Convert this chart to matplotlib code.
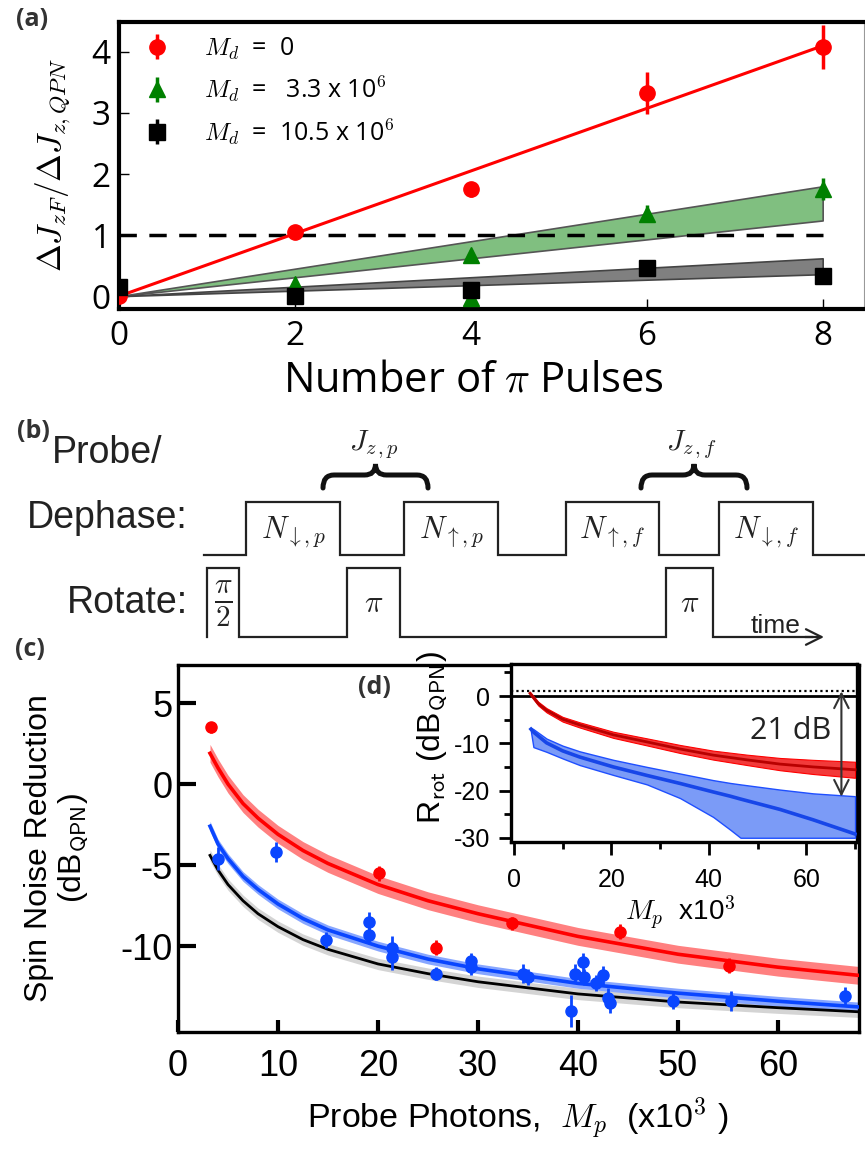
import matplotlib
matplotlib.use('Agg')
import matplotlib.pyplot as plt
from matplotlib.path import Path
from matplotlib.patches import PathPatch

plt.rcParams['mathtext.fontset'] = 'cm'
plt.rcParams['font.family'] = ['Open Sans', 'DejaVu Sans']
plt.rcParams['axes.unicode_minus'] = False

W, H = 865, 1150

# ---------------- (a) noise vs number of pi pulses ----------------
pulses = [0, 2, 4, 6, 8]
dj_md0 = [0.0, 1.05, 1.75, 3.33, 4.08]
dj_md0_err = [0.03, 0.05, 0.12, 0.34, 0.36]
pulses_md33 = [2, 4, 4, 6, 8]
dj_md33 = [0.2, 0.68, -0.03, 1.35, 1.75]
dj_md33_err = [0.05, 0.08, 0.05, 0.14, 0.18]
dj_md105 = [0.15, 0.0, 0.1, 0.46, 0.33]
dj_md105_err = [0.05, 0.05, 0.05, 0.05, 0.05]

fit_pulses = [0, 8]
fit_md0 = [0.0, 4.1]
band_md33_lo = [0.0, 1.24]
band_md33_hi = [0.0, 1.8]
band_md105_lo = [0.0, 0.36]
band_md105_hi = [0.0, 0.62]

# ---------------- (b) pulse sequence ----------------
probe_edges = [246, 340, 404, 498, 566, 659, 719, 813]
rotate_edges = [207, 239, 347, 400, 666, 713]
probe_labels = [r'$N_{\downarrow,p}$', r'$N_{\uparrow,p}$', r'$N_{\uparrow,f}$', r'$N_{\downarrow,f}$']
rotate_labels = [r'$\frac{\pi}{2}$', r'$\pi$', r'$\pi$']
brace_spans = [(323, 428), (641, 747)]
brace_labels = [r'$J_{z\,,p}$', r'$J_{z\,,f}$']

# ---------------- (c) spin noise reduction ----------------
mp_red = [3.3, 20.1, 25.8, 33.4, 44.2, 55.1]
snr_red = [3.5, -5.5, -10.1, -8.6, -9.1, -11.2]
snr_red_err = [0.35, 0.45, 0.45, 0.4, 0.45, 0.45]
mp_blue = [4.0, 9.8, 14.8, 19.1, 19.1, 21.4, 21.4, 25.8, 29.3, 29.3, 34.5, 35.0,
           39.3, 39.7, 40.5, 40.6, 41.8, 42.5, 43.0, 43.2, 49.5, 55.3, 66.7]
snr_blue = [-4.6, -4.2, -9.6, -8.5, -9.3, -10.1, -10.7, -11.7, -10.9, -11.3, -11.7, -11.9,
            -14.0, -11.7, -11.0, -11.9, -12.3, -11.8, -13.2, -13.5, -13.4, -13.4, -13.1]
snr_blue_err = [0.7, 0.6, 0.5, 0.6, 0.5, 0.7, 0.8, 0.4, 0.5, 0.5, 0.6, 0.5,
                1.0, 0.6, 0.6, 0.5, 0.5, 0.6, 0.6, 0.6, 0.5, 0.6, 0.6]

fit_mp = [3.2, 4, 5, 6.5, 8, 10, 12.5, 15, 20, 25, 30, 40, 50, 60, 68]
fit_red = [1.9, 1.0, 0.0, -1.2, -2.1, -3.1, -4.1, -4.9, -6.2, -7.2, -8.0, -9.4, -10.5, -11.3, -11.8]
fit_blue = [-2.6, -3.7, -4.6, -5.7, -6.5, -7.4, -8.3, -9.0, -10.0, -10.8, -11.4, -12.3, -12.9, -13.4, -13.75]
fit_black = [-4.4, -5.3, -6.2, -7.2, -8.0, -8.8, -9.6, -10.2, -11.1, -11.7, -12.2, -12.95, -13.45, -13.8, -14.05]
hw_red, hw_blue, hw_black = 0.55, 0.3, 0.35

# ---------------- (d) rotation-corrected reduction ----------------
rot_x_red = [3.3, 5, 6.7, 10, 13.5, 20.4, 27.3, 34.1, 40.9, 47.8, 54.6, 61.4, 70]
rot_red = [0.6, -1.6, -3.0, -4.9, -6.1, -8.2, -9.7, -11.2, -12.5, -13.5, -14.4, -15.0, -15.6]
rot_red_hw = [0.3, 0.4, 0.45, 0.5, 0.55, 0.65, 0.75, 0.85, 0.95, 1.1, 1.3, 1.5, 1.7]
rot_x_blue = [3.5, 4.0, 6.7, 10, 13.5, 20.4, 27.3, 34.1, 40.9, 44.4, 46.5, 54.6, 61.4, 70]
rot_blue = [-7.0, -7.6, -9.9, -11.6, -12.9, -15.0, -16.8, -18.5, -20.3, -21.2, -21.8, -24.0, -26.2, -29.2]
rot_blue_hi = [-6.7, -7.0, -9.0, -10.5, -11.7, -13.5, -15.0, -16.4, -17.8, -18.4, -18.7, -19.8, -20.6, -21.2]
rot_blue_lo = [-7.6, -10.8, -11.8, -13.2, -14.6, -16.7, -18.7, -21.6, -25.6, -28.3, -30, -30, -30, -30]
gap_x, gap_top, gap_bottom = 67.2, 1.0, -21.3


def box(l, t, r, b):
    return [l / W, 1 - b / H, (r - l) / W, (b - t) / H]


def fpos(x, y):
    return x / W, 1 - y / H


fig = plt.figure(figsize=(W / 100, H / 100), dpi=100)

# panel labels
for lab, (x, y) in zip(['(a)', '(b)', '(c)', '(d)'],
                       [(32, 19), (33, 432), (30, 650), (374, 688)]):
    fig.text(*fpos(x, y), lab, fontsize=18, fontweight='bold', color='#333333',
             ha='center', va='center', zorder=10)

# ---- (a)
ax = fig.add_axes(box(119, 22, 864, 309))
ax.fill_between(fit_pulses, band_md33_lo, band_md33_hi, facecolor='#80bf80',
                edgecolor='#555555', lw=1.2, zorder=2)
ax.fill_between(fit_pulses, band_md105_lo, band_md105_hi, facecolor='#808080',
                edgecolor='#444444', lw=1.2, zorder=2)
ax.plot([0, 8], [1, 1], color='k', lw=2.5, dashes=(5, 3.6), zorder=2)
ax.plot(fit_pulses, fit_md0, color='red', lw=2.2, zorder=3)
ax.errorbar(pulses, dj_md0, yerr=dj_md0_err, fmt='o', color='red', ms=11,
            elinewidth=2.5, capsize=0, zorder=4, label=r'$M_d$  =  0')
ax.errorbar(pulses_md33, dj_md33, yerr=dj_md33_err, fmt='^', color='green', ms=11,
            elinewidth=2.5, capsize=0, zorder=4,
            label=r'$M_d$  =   3.3 x 10$^{\mathsf{6}}$')
ax.errorbar(pulses, dj_md105, yerr=dj_md105_err, fmt='s', color='black', ms=11,
            elinewidth=2.5, capsize=0, zorder=4,
            label=r'$M_d$  =  10.5 x 10$^{\mathsf{6}}$')
ax.set_xlim(0, 8.47)
ax.set_ylim(-0.21, 4.49)
ax.set_xticks([0, 2, 4, 6, 8])
ax.set_yticks([0, 1, 2, 3, 4])
ax.tick_params(direction='in', length=7, width=1, labelsize=24)
ax.tick_params(axis='x', pad=8)
ax.tick_params(axis='y', pad=6)
for s in ['top', 'bottom', 'left']:
    ax.spines[s].set_linewidth(3)
ax.spines['right'].set_linewidth(0.8)
ax.spines['right'].set_color('#999999')
ax.legend(loc='upper left', bbox_to_anchor=(0.0, 1.018), frameon=False, fontsize=18,
          handlelength=1.5, handletextpad=1.15, labelspacing=0.5, borderaxespad=0.35)
fig.text(*fpos(53, 165), r'$\Delta J_{zF}/\Delta J_{z,QPN}$', rotation=90,
         fontsize=24, ha='center', va='center')
fig.text(*fpos(473, 381), r'Number of $\pi$ Pulses', fontsize=30, ha='center', va='center')

# ---- (b)
axb = fig.add_axes([0, 0, 1, 1], zorder=-1)
axb.set_xlim(0, W)
axb.set_ylim(H, 0)
axb.axis('off')


def square_wave(edges, start, stop, lo, hi):
    xs, ys = [start], [lo]
    level = lo
    for e in edges:
        xs += [e, e]
        ys += [level, hi if level == lo else lo]
        level = ys[-1]
    xs.append(stop)
    ys.append(level)
    return xs, ys


px, py = square_wave(probe_edges, 204, W, 555, 502)
axb.plot(px, py, color='#222222', lw=1.6, solid_joinstyle='miter')
rx, ry = square_wave(rotate_edges, 207, 812, 637, 568)
axb.plot(rx[1:], ry[1:], color='#222222', lw=1.6, solid_joinstyle='miter')
axb.annotate('', xy=(824, 637), xytext=(805, 637),
             arrowprops=dict(arrowstyle='->', color='#222222', lw=1.6,
                             mutation_scale=28, shrinkA=0, shrinkB=0))

for i, lab in enumerate(probe_labels):
    xc = (probe_edges[2 * i] + probe_edges[2 * i + 1]) / 2
    axb.text(xc, 532, lab, fontsize=22, ha='center', va='center', color='#222222')
for i, lab in enumerate(rotate_labels):
    xc = (rotate_edges[2 * i] + rotate_edges[2 * i + 1]) / 2
    axb.text(xc, 604, lab, fontsize=30 if i == 0 else 22, ha='center', va='center',
             color='#222222')
axb.text(776, 626, 'time', fontsize=19, ha='center', va='center',
         family='Liberation Sans', color='#222222')
axb.text(107, 453, 'Probe/', fontsize=27, ha='center', va='center',
         family='Liberation Sans', color='#222222')
axb.text(107, 518, 'Dephase:', fontsize=27, ha='center', va='center',
         family='Liberation Sans', color='#222222')
axb.text(188, 603, 'Rotate:', fontsize=27, ha='right', va='center',
         family='Liberation Sans', color='#222222')


def brace(x0, x1, y, drop, rise, r=11):
    xc = (x0 + x1) / 2
    verts = [(x0, y + drop), (x0, y), (x0 + r, y), (xc - r, y), (xc, y), (xc, y - rise),
             (xc, y), (xc + r, y), (x1 - r, y), (x1, y), (x1, y + drop)]
    codes = [Path.MOVETO, Path.CURVE3, Path.CURVE3, Path.LINETO, Path.CURVE3, Path.CURVE3,
             Path.CURVE3, Path.CURVE3, Path.LINETO, Path.CURVE3, Path.CURVE3]
    return PathPatch(Path(verts, codes), fill=False, lw=3.6, color='#111111',
                     capstyle='round')


for (x0, x1), lab in zip(brace_spans, brace_labels):
    axb.add_patch(brace(x0, x1, 475, 13, 11))
    axb.text((x0 + x1) / 2 - 2, 445, lab, fontsize=21, ha='center', va='center',
             color='#222222')

# ---- (c)
axc = fig.add_axes(box(178, 665, 859, 1032))
for fit, hw, band, line, lw in [(fit_black, hw_black, '#d4d4d4', 'black', 2.0),
                                (fit_blue, hw_blue, '#87a6ff', '#0a46ff', 2.6),
                                (fit_red, hw_red, '#ff8080', 'red', 2.6)]:
    axc.fill_between(fit_mp, [v - hw for v in fit], [v + hw for v in fit],
                     color=band, lw=0, zorder=2)
    axc.plot(fit_mp, fit, color=line, lw=lw, zorder=3)
axc.errorbar(mp_blue, snr_blue, yerr=snr_blue_err, fmt='o', color='#0a46ff', ms=8,
             elinewidth=2, capsize=0, zorder=4)
axc.errorbar(mp_red, snr_red, yerr=snr_red_err, fmt='o', color='red', ms=8,
             elinewidth=2, capsize=0, zorder=4)
axc.set_xlim(0, 68.1)
axc.set_ylim(-15.3, 7.35)
axc.set_xticks(range(0, 70, 10))
axc.set_yticks([-10, -5, 0, 5])
axc.tick_params(direction='in', width=3, labelsize=26, labelfontfamily='Liberation Sans')
axc.tick_params(axis='x', length=9, pad=12)
axc.tick_params(axis='y', length=13, pad=4)
for s in axc.spines.values():
    s.set_linewidth(2.4)
fig.text(*fpos(57, 848), 'Spin Noise Reduction\n(dB$_{\\mathsf{QPN}}$)', rotation=90,
         fontsize=23, ha='center', va='center', family='Liberation Sans',
         multialignment='center', linespacing=1.1)
fig.text(*fpos(518, 1118), r'Probe Photons,  $M_p$  (x10$^{\mathsf{3}}$ )', fontsize=24.5,
         ha='center', va='center', family='Liberation Sans')

# ---- (d) inset
axd = fig.add_axes(box(511, 664, 857, 842), zorder=5)
axd.axhline(0, color='k', lw=2, zorder=2)
axd.axhline(1.05, color='k', lw=1.6, ls=(0, (1, 1.4)), zorder=2)
axd.fill_between(rot_x_red, [v - h for v, h in zip(rot_red, rot_red_hw)],
                 [v + h for v, h in zip(rot_red, rot_red_hw)],
                 facecolor='#f23a3a', edgecolor='red', lw=0.8, zorder=3)
axd.plot(rot_x_red, rot_red, color='#b80000', lw=2, zorder=4)
axd.fill_between(rot_x_blue, rot_blue_lo, rot_blue_hi, facecolor='#7b9bf7',
                 edgecolor='#1f4fff', lw=1, zorder=3)
axd.plot(rot_x_blue, rot_blue, color='#1746e8', lw=2.6, zorder=4)
axd.annotate('', xy=(gap_x, gap_top), xytext=(gap_x, gap_bottom),
             arrowprops=dict(arrowstyle='<->', color='#333333', lw=1.5,
                             mutation_scale=26, shrinkA=0, shrinkB=0), zorder=5)
axd.text(56.7, -7.4, '21 dB', fontsize=22, ha='center', va='center', color='#222222')
axd.set_xlim(-0.6, 70.4)
axd.set_ylim(-30.9, 6.8)
axd.set_xticks([0, 20, 40, 60])
axd.set_xticks([10, 30, 50, 70], minor=True)
axd.set_yticks([-30, -20, -10, 0])
axd.set_yticks([-25, -15, -5, 5], minor=True)
axd.tick_params(direction='out', width=2, labelsize=18, labelfontfamily='Liberation Sans')
axd.tick_params(which='major', length=9)
axd.tick_params(which='minor', length=5, width=2)
axd.tick_params(axis='x', which='major', pad=10)
axd.tick_params(axis='y', which='major', pad=6)
for s in axd.spines.values():
    s.set_linewidth(2.4)
fig.text(*fpos(432, 738), r'R$_{\mathsf{rot}}$ (dB$_{\mathsf{QPN}}$)', rotation=90,
         fontsize=23, ha='center', va='center', family='Liberation Sans', zorder=6)
fig.text(*fpos(680, 912), r'$M_p$  x10$^{\mathsf{3}}$', fontsize=20, ha='center',
         va='center', family='Liberation Sans', zorder=6)

fig.savefig('out.png', dpi=100)
